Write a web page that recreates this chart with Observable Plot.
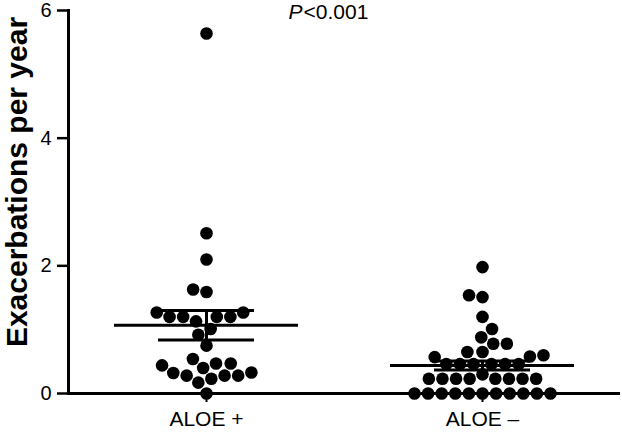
<!DOCTYPE html>
<html><head><meta charset="utf-8">
<script src="https://cdn.jsdelivr.net/npm/d3@7"></script>
<script src="https://cdn.jsdelivr.net/npm/@observablehq/plot@0.6"></script>
<style>body{margin:0;background:#fff;}</style>
</head><body><div id="chart"></div>
<script>
const groups = ["ALOE +", "ALOE \u2013"];
const aloePositive = [0, 0.17, 0.23, 0.28, 0.28, 0.28, 0.32, 0.33, 0.40, 0.44, 0.47, 0.47, 0.54,
  0.75, 0.92, 1.01, 1.13, 1.20, 1.20, 1.20, 1.20, 1.27, 1.27, 1.59, 1.63, 2.10, 2.51, 5.64];
const aloeNegative = [0, 0, 0, 0, 0, 0, 0, 0, 0, 0, 0,
  0.30, 0.23, 0.23, 0.23, 0.23, 0.23, 0.23, 0.23, 0.23,
  0.46, 0.46, 0.46, 0.46, 0.46, 0.46,
  0.57, 0.58, 0.60, 0.65, 0.65, 0.78, 0.78, 0.88, 1.01, 1.20, 1.51, 1.54, 1.98];
const groupMeans = [1.07, 0.44];
const groupSems = [0.23, 0.07];
const yTicks = [0, 2, 4, 6];
const yLabel = "Exacerbations per year";
const pItalic = "P";
const pRest = "<0.001";

const points = [
  ...aloePositive.map(v => ({g: groups[0], v})),
  ...aloeNegative.map(v => ({g: groups[1], v}))
];
const stats = groups.map((g, i) => ({g, mean: groupMeans[i], lo: groupMeans[i] - groupSems[i], hi: groupMeans[i] + groupSems[i]}));

const chart = Plot.plot({
  width: 622, height: 432,
  marginTop: 10, marginBottom: 39, marginLeft: 68, marginRight: 2,
  style: {fontFamily: "'Liberation Sans', Arial, sans-serif", fontSize: "20px", color: "#000", background: "#fff"},
  fx: {domain: groups, padding: 0, label: null, axis: null},
  y: {domain: [0, 6], axis: null},
  marks: [
    Plot.axisY(yTicks, {tickSize: 11, tickPadding: 6, fontSize: 20, strokeWidth: 2.5, tickFormat: d3.format("d"), label: null}),
    Plot.frame({anchor: "left", facetAnchor: "left", strokeWidth: 3}),
    Plot.ruleY([0], {strokeWidth: 3}),
    Plot.axisFx({anchor: "bottom", tickSize: 9, tickPadding: 9, fontSize: 21, strokeWidth: 2, label: null}),
    Plot.dot(points, Plot.dodgeX("middle", {fx: "g", y: "v", r: 6.3, padding: 4.2, fill: "#000", stroke: "none"})),
    Plot.ruleY(stats, {fx: "g", y: "mean", insetLeft: 46, insetRight: 46, strokeWidth: 3}),
    Plot.ruleY(stats, {fx: "g", y: "lo", insetLeft: 90, insetRight: 90, strokeWidth: 3}),
    Plot.ruleY(stats, {fx: "g", y: "hi", insetLeft: 90, insetRight: 90, strokeWidth: 3}),
    Plot.ruleX(stats, {fx: "g", x: null, y1: "lo", y2: "hi", strokeWidth: 3}),
    Plot.text([yLabel], {frameAnchor: "left", facetAnchor: "left", rotate: -90, dx: -51, dy: -20,
      fontSize: 30, fontWeight: "bold", textAnchor: "middle", lineAnchor: "middle"}),
    Plot.text([pItalic], {frameAnchor: "top-right", facetAnchor: "left", dx: -42, dy: 2,
      fontSize: 21, fontStyle: "italic", textAnchor: "end", lineAnchor: "middle"}),
    Plot.text([pRest], {frameAnchor: "top-right", facetAnchor: "left", dx: -41, dy: 2,
      fontSize: 21, textAnchor: "start", lineAnchor: "middle"})
  ]
});
document.getElementById("chart").append(chart);
</script>
</body></html>
